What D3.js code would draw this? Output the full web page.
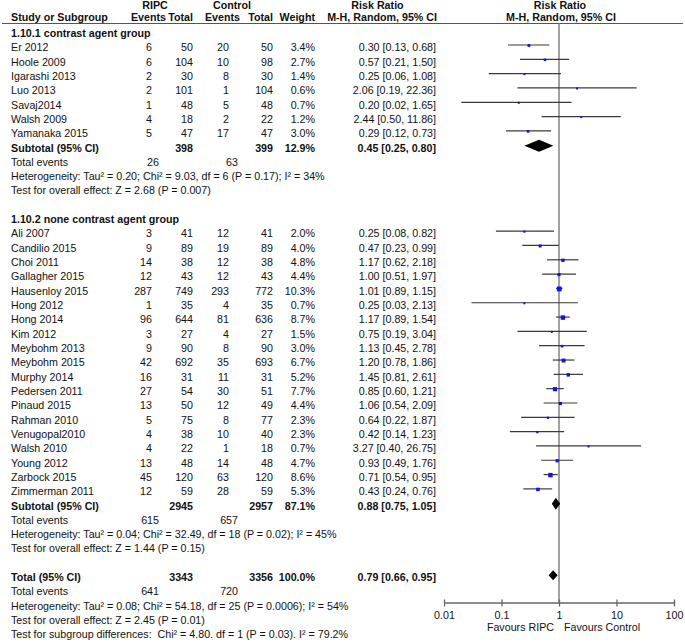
<!DOCTYPE html>
<html>
<head>
<meta charset="utf-8">
<script src="https://cdn.jsdelivr.net/npm/d3@7"></script>
<style>
  html, body { margin: 0; padding: 0; background: #fff; }
  svg { display: block; }
  text { font-family: "Liberation Sans", Arial, sans-serif; font-size: 10.7px; fill: #111; white-space: pre; }
  .b { font-weight: bold; }
</style>
</head>
<body>
<svg id="chart" width="685" height="643"></svg>
<script>
// ---- Data ----
// [study, RIPC events, RIPC total, Control events, Control total, weight %, RR, lower, upper]
const group1Studies = [
  ["Er 2012", 6, 50, 20, 50, 3.4, 0.30, 0.13, 0.68],
  ["Hoole 2009", 6, 104, 10, 98, 2.7, 0.57, 0.21, 1.50],
  ["Igarashi 2013", 2, 30, 8, 30, 1.4, 0.25, 0.06, 1.08],
  ["Luo 2013", 2, 101, 1, 104, 0.6, 2.06, 0.19, 22.36],
  ["Savaj2014", 1, 48, 5, 48, 0.7, 0.20, 0.02, 1.65],
  ["Walsh 2009", 4, 18, 2, 22, 1.2, 2.44, 0.50, 11.86],
  ["Yamanaka 2015", 5, 47, 17, 47, 3.0, 0.29, 0.12, 0.73]
];
const group2Studies = [
  ["Ali 2007", 3, 41, 12, 41, 2.0, 0.25, 0.08, 0.82],
  ["Candilio 2015", 9, 89, 19, 89, 4.0, 0.47, 0.23, 0.99],
  ["Choi 2011", 14, 38, 12, 38, 4.8, 1.17, 0.62, 2.18],
  ["Gallagher 2015", 12, 43, 12, 43, 4.4, 1.00, 0.51, 1.97],
  ["Hausenloy 2015", 287, 749, 293, 772, 10.3, 1.01, 0.89, 1.15],
  ["Hong 2012", 1, 35, 4, 35, 0.7, 0.25, 0.03, 2.13],
  ["Hong 2014", 96, 644, 81, 636, 8.7, 1.17, 0.89, 1.54],
  ["Kim 2012", 3, 27, 4, 27, 1.5, 0.75, 0.19, 3.04],
  ["Meybohm 2013", 9, 90, 8, 90, 3.0, 1.13, 0.45, 2.78],
  ["Meybohm 2015", 42, 692, 35, 693, 6.7, 1.20, 0.78, 1.86],
  ["Murphy 2014", 16, 31, 11, 31, 5.2, 1.45, 0.81, 2.61],
  ["Pedersen 2011", 27, 54, 30, 51, 7.7, 0.85, 0.60, 1.21],
  ["Pinaud 2015", 13, 50, 12, 49, 4.4, 1.06, 0.54, 2.09],
  ["Rahman 2010", 5, 75, 8, 77, 2.3, 0.64, 0.22, 1.87],
  ["Venugopal2010", 4, 38, 10, 40, 2.3, 0.42, 0.14, 1.23],
  ["Walsh 2010", 4, 22, 1, 18, 0.7, 3.27, 0.40, 26.75],
  ["Young 2012", 13, 48, 14, 48, 4.7, 0.93, 0.49, 1.76],
  ["Zarbock 2015", 45, 120, 63, 120, 8.6, 0.71, 0.54, 0.95],
  ["Zimmerman 2011", 12, 59, 28, 59, 5.3, 0.43, 0.24, 0.76]
];
// [label, RIPC total, Control total, weight %, RR, lower, upper, RIPC events, Control events]
const summaries = [
  ["Subtotal (95% CI)", 398, 399, 12.9, 0.45, 0.25, 0.80, 26, 63],
  ["Subtotal (95% CI)", 2945, 2957, 87.1, 0.88, 0.75, 1.05, 615, 657],
  ["Total (95% CI)", 3343, 3356, 100.0, 0.79, 0.66, 0.95, 641, 720]
];
const groupLabels = ["1.10.1 contrast agent group", "1.10.2 none contrast agent group"];
const heterogeneityTexts = [
  "Heterogeneity: Tau² = 0.20; Chi² = 9.03, df = 6 (P = 0.17); I² = 34%",
  "Heterogeneity: Tau² = 0.04; Chi² = 32.49, df = 18 (P = 0.02); I² = 45%",
  "Heterogeneity: Tau² = 0.08; Chi² = 54.18, df = 25 (P = 0.0006); I² = 54%"
];
const overallEffectTexts = [
  "Test for overall effect: Z = 2.68 (P = 0.007)",
  "Test for overall effect: Z = 1.44 (P = 0.15)",
  "Test for overall effect: Z = 2.45 (P = 0.01)"
];
const subgroupDiffText = "Test for subgroup differences:  Chi² = 4.80. df = 1 (P = 0.03). I² = 79.2%";
const axisTicks = [0.01, 0.1, 1, 10, 100];
const axisTickLabels = ["0.01", "0.1", "1", "10", "100"];
const favoursLabels = ["Favours RIPC", "Favours Control"];

// ---- Layout ----
const svg = d3.select("#chart");
const x = d3.scaleLog().domain([0.01, 100]).range([444, 674]);
const yRow = d3.scaleLinear().domain([0, 41]).range([45, 632.1]);
const base = r => yRow(r) + 6.3;

const col = { name: 11, rE: 152, rN: 193, cE: 229, cN: 273, w: 315, rr: 436, teR: 159, teC: 238 };
const f2 = v => v.toFixed(2);
const rrText = (rr, lo, hi) => `${f2(rr)} [${f2(lo)}, ${f2(hi)}]`;

function txt(xp, yp, s, anchor, bold) {
  svg.append("text").attr("x", xp).attr("y", yp).attr("text-anchor", anchor || "start")
    .attr("class", bold ? "b" : null).text(s);
}

// Headers
txt(155, 9, "RIPC", "middle", true);
txt(232, 9, "Control", "middle", true);
txt(377.5, 9, "Risk Ratio", "middle", true);
txt(560, 9, "Risk Ratio", "middle", true);
txt(col.name, 21.3, "Study or Subgroup", "start", true);
txt(166, 21.3, "Events", "end", true);
txt(col.rN, 21.3, "Total", "end", true);
txt(240, 21.3, "Events", "end", true);
txt(col.cN, 21.3, "Total", "end", true);
txt(col.w, 21.3, "Weight", "end", true);
txt(col.rr + 1, 21.3, "M-H, Random, 95% CI", "end", true);
txt(561, 21.3, "M-H, Random, 95% CI", "middle", true);

svg.append("line").attr("x1", 2).attr("x2", 683).attr("y1", 23.5).attr("y2", 23.5)
  .attr("stroke", "#555").attr("stroke-width", 1.2);

// Vertical line of no effect
svg.append("line").attr("x1", x(1)).attr("x2", x(1)).attr("y1", 23.5).attr("y2", 603)
  .attr("stroke", "#8a8a8a").attr("stroke-width", 1.6);

const groups = [group1Studies, group2Studies];
const groupStart = [0, 13];

groups.forEach((studies, gi) => {
  const r0 = groupStart[gi];
  txt(col.name, base(r0 - 1), groupLabels[gi], "start", true);
  studies.forEach((s, i) => {
    const r = r0 + i;
    const yb = base(r);
    txt(col.name, yb, s[0]);
    txt(col.rE, yb, String(s[1]), "end");
    txt(col.rN, yb, String(s[2]), "end");
    txt(col.cE, yb, String(s[3]), "end");
    txt(col.cN, yb, String(s[4]), "end");
    txt(col.w, yb, s[5].toFixed(1) + "%", "end");
    txt(col.rr, yb, rrText(s[6], s[7], s[8]), "end");
    const ym = yRow(r);
    svg.append("line").attr("x1", x(s[7])).attr("x2", x(s[8])).attr("y1", ym).attr("y2", ym)
      .attr("stroke", "#3a3a3a").attr("stroke-width", 1.2);
    const side = Math.max(2, Math.sqrt(s[5]) * 1.5);
    svg.append("rect").attr("x", x(s[6]) - side / 2).attr("y", ym - side / 2 + 0.5)
      .attr("width", side).attr("height", side).attr("fill", "#1010e8");
  });
});

const summaryRows = [7, 32, 37];
summaries.forEach((s, i) => {
  const r = summaryRows[i];
  const yb = base(r);
  txt(col.name, yb, s[0], "start", true);
  txt(col.rN, yb, String(s[1]), "end", true);
  txt(col.cN, yb, String(s[2]), "end", true);
  txt(col.w, yb, s[3].toFixed(1) + "%", "end", true);
  txt(col.rr, yb, rrText(s[4], s[5], s[6]), "end", true);
  txt(col.name, base(r + 1), "Total events");
  txt(col.teR, base(r + 1), String(s[7]), "end");
  txt(col.teC, base(r + 1), String(s[8]), "end");
  txt(col.name, base(r + 2), heterogeneityTexts[i]);
  txt(col.name, base(r + 3), overallEffectTexts[i]);
  const ym = yRow(r) + 0.5;
  const h = i === 2 ? 5 : 6;
  const pts = [[x(s[5]), ym], [x(s[4]), ym - h], [x(s[6]), ym], [x(s[4]), ym + h]];
  svg.append("path").attr("d", d3.line()(pts) + "Z").attr("fill", "#000");
});
txt(col.name, base(41), subgroupDiffText);

// Axis
const axisY = 603;
const axis = d3.axisBottom(x).tickValues(axisTicks)
  .tickFormat((d, i) => axisTickLabels[i]).tickSize(3).tickPadding(5);
const ag = svg.append("g").attr("transform", `translate(0,${axisY})`).call(axis);
ag.select(".domain").attr("stroke", "#666").attr("stroke-width", 1.3).attr("d", `M${x(0.01)},0H${x(100)}`);
ag.selectAll(".tick line").attr("y1", -3.5).attr("y2", 3.5).attr("stroke", "#666").attr("stroke-width", 1.3);
ag.selectAll(".tick text").attr("y", 16).attr("dy", null)
  .style("font-family", "'Liberation Sans', Arial, sans-serif").style("font-size", "10.7px").attr("fill", "#111");
ag.attr("font-size", null).attr("font-family", null);

txt(x(1) - 5, 630.7, favoursLabels[0], "end");
txt(x(1) + 5, 630.7, favoursLabels[1], "start");
</script>
</body>
</html>
